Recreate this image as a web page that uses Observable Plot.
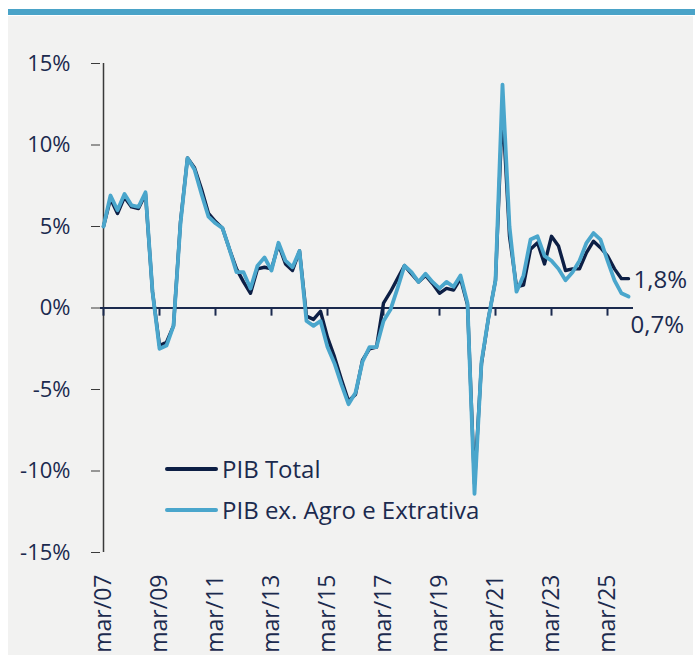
<!DOCTYPE html>
<html>
<head>
<meta charset="utf-8">
<script src="https://cdn.jsdelivr.net/npm/d3@7"></script>
<script src="https://cdn.jsdelivr.net/npm/@observablehq/plot@0.6"></script>
<style>
  html, body { margin: 0; padding: 0; background: #ffffff; }
  #wrap { position: relative; width: 695px; height: 655px; overflow: hidden; font-family: "Open Sans", sans-serif; }
  #bar { position: absolute; left: 8px; top: 9px; width: 687px; height: 6px; background: #4aa3c8; }
  #panel { position: absolute; left: 8px; top: 16px; width: 685px; height: 639px; background: #f2f2f1; }
  #chart { position: absolute; left: 0; top: 0; }
  #chart svg { overflow: visible; }
  .leg { position: absolute; left: 165px; display: flex; align-items: center; font-size: 24px; color: #1b2a4e; white-space: nowrap; }
  .leg .sw { width: 53px; height: 4px; margin-right: 4px; border-radius: 2px; }
</style>
</head>
<body>
<div id="wrap">
  <div id="bar"></div>
  <div id="panel"></div>
  <div id="chart"></div>
  <div class="leg" style="top:452px"><span class="sw" style="background:#0d1f45"></span><span>PIB Total</span></div>
  <div class="leg" style="top:493px"><span class="sw" style="background:#4aa6cc"></span><span>PIB ex. Agro e Extrativa</span></div>
</div>
<script>
const years = ["07","08","09","10","11","12","13","14","15","16","17","18","19","20","21","22","23","24","25"];
const months = ["mar","jun","set","dez"];
const quarters = years.flatMap(y => months.map(m => `${m}/${y}`));

const tickLabels = ["mar/07","mar/09","mar/11","mar/13","mar/15","mar/17","mar/19","mar/21","mar/23","mar/25"];
const yTicks = [-15, -10, -5, 0, 5, 10, 15];

const pibTotal = [
  5.0, 6.7, 5.8, 6.8, 6.2, 6.1, 7.0, 1.0,
  -2.3, -2.1, -1.1, 5.3, 9.2, 8.6, 7.3, 5.8,
  5.3, 4.9, 3.6, 2.4, 1.6, 0.9, 2.4, 2.5,
  2.4, 3.9, 2.7, 2.3, 3.5, -0.5, -0.7, -0.2,
  -1.8, -3.0, -4.4, -5.7, -5.3, -3.2, -2.5, -2.4,
  0.3, 1.0, 1.8, 2.6, 2.1, 1.6, 2.0, 1.5,
  0.9, 1.2, 1.1, 1.8, 0.2, -10.8, -3.4, -0.6,
  1.7, 12.3, 4.4, 1.3, 1.4, 3.6, 4.0, 2.7,
  4.4, 3.8, 2.3, 2.4, 2.4, 3.4, 4.1, 3.7,
  3.2, 2.4, 1.8, 1.8
];
const pibExAgro = [
  5.0, 6.9, 6.0, 7.0, 6.3, 6.2, 7.1, 1.0,
  -2.5, -2.3, -1.1, 5.2, 9.2, 8.5, 7.0, 5.6,
  5.2, 4.9, 3.6, 2.2, 2.2, 1.2, 2.6, 3.1,
  2.3, 4.0, 2.9, 2.5, 3.5, -0.8, -1.1, -0.8,
  -2.4, -3.4, -4.7, -5.9, -5.2, -3.3, -2.4, -2.4,
  -0.8, -0.1, 1.2, 2.6, 2.2, 1.6, 2.1, 1.6,
  1.2, 1.6, 1.3, 2.0, 0.3, -11.4, -3.3, -0.6,
  1.7, 13.7, 5.0, 1.0, 2.0, 4.2, 4.4, 3.2,
  2.9, 2.4, 1.7, 2.2, 2.9, 4.0, 4.6, 4.2,
  2.9, 1.7, 0.9, 0.7
];

const navy = "#0d1f45";
const textNavy = "#1b2a4e";
const lightBlue = "#4aa6cc";
const last = quarters.length - 1;
const fmt = v => v.toFixed(1).replace(".", ",") + "%";

const chart = Plot.plot({
  width: 695,
  height: 655,
  marginTop: 63,
  marginBottom: 103,
  marginLeft: 100,
  marginRight: 64,
  style: { background: "transparent", fontFamily: "'Open Sans', sans-serif", color: textNavy },
  x: { type: "point", domain: quarters, padding: 0 },
  y: { domain: [-15, 15] },
  marks: [
    Plot.ruleX([quarters[0]], { y1: -15, y2: 15, stroke: "#3a3a3a", strokeWidth: 1.5 }),
    Plot.axisY(yTicks, { tickSize: 9, tickPadding: 21, stroke: "#3a3a3a", fill: textNavy, fontSize: 22, tickFormat: d => `${d}%` }),
    Plot.axisX(tickLabels, { anchor: "bottom", tickSize: 0, tickPadding: 22, tickRotate: -90, fill: textNavy, fontSize: 23 }),
    Plot.ruleY([0], { stroke: "#1b2a4e", strokeWidth: 2, insetRight: -2 }),
    Plot.ruleX(tickLabels, { x: d => d, y1: 0, y2: -0.5, stroke: "#1b2a4e", strokeWidth: 2 }),
    Plot.line(pibTotal, { x: quarters, y: pibTotal, stroke: navy, strokeWidth: 3.4, strokeLinejoin: "round" }),
    Plot.line(pibExAgro, { x: quarters, y: pibExAgro, stroke: lightBlue, strokeWidth: 3.8, strokeLinejoin: "round" }),
    Plot.text([pibTotal[last]], { x: [quarters[last]], y: d => d, text: d => fmt(d), textAnchor: "start", dx: 5, dy: 2, fontSize: 24, fill: textNavy }),
    Plot.text([pibExAgro[last]], { x: [quarters[last]], y: d => d, text: d => fmt(d), textAnchor: "start", dx: 2, dy: 29, fontSize: 24, fill: textNavy })
  ]
});
document.getElementById("chart").appendChild(chart);
</script>
</body>
</html>
